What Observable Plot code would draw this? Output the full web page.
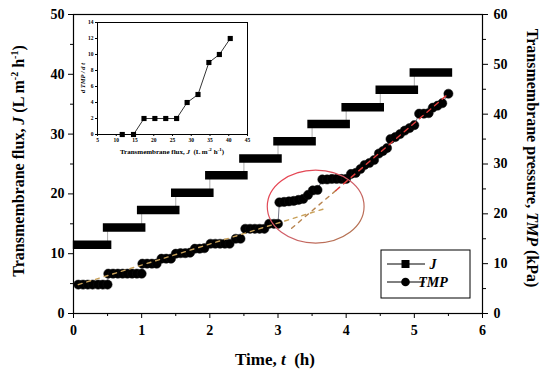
<!DOCTYPE html>
<html>
<head>
<meta charset="utf-8">
<script src="https://cdn.jsdelivr.net/npm/d3@7"></script>
<script src="https://cdn.jsdelivr.net/npm/@observablehq/plot@0.6"></script>
<style>
  html, body { margin: 0; padding: 0; background: white; }
  #wrap { position: relative; width: 550px; height: 377px; overflow: hidden; }
  #wrap svg { position: absolute; }
</style>
</head>
<body>
<div id="wrap"></div>
<script>
// ---------- data ----------
// Flux J (L m-2 h-1): step start time, end time (h), value
const jStart = [0.06, 0.5, 1.0, 1.5, 2.0, 2.5, 3.0, 3.5, 4.0, 4.5, 5.0];
const jEnd   = [0.5, 1.0, 1.5, 2.0, 2.5, 3.0, 3.5, 4.0, 4.5, 5.0, 5.5];
const jFlux  = [11.5, 14.4, 17.3, 20.2, 23.1, 25.9, 28.8, 31.7, 34.5, 37.4, 40.3];

// TMP (kPa) readings vs time (h)
const tmpTime = [
  0.07,0.14,0.21,0.28,0.36,0.43,0.50,
  0.51,0.58,0.65,0.72,0.79,0.86,0.93,1.00,
  1.01,1.08,1.15,1.22,1.29,1.36,1.43,
  1.50,1.57,1.64,1.71,1.78,1.85,1.92,
  2.01,2.08,2.15,2.22,2.29,2.38,2.45,
  2.52,2.59,2.66,2.73,2.80,2.87,2.94,3.00,
  3.02,3.09,3.16,3.23,3.30,3.37,3.44,3.51,3.58,
  3.65,3.72,3.79,3.86,3.93,4.00,
  4.07,4.14,4.21,4.27,4.34,4.41,4.48,4.54,4.60,4.65,4.72,4.79,4.86,4.93,5.00,
  5.07,5.14,5.21,5.27,5.34,5.41,5.50
];
const tmpValue = [
  5.8,5.8,5.8,5.8,5.8,5.8,5.8,
  8.0,8.0,8.0,8.0,8.0,8.0,8.0,8.0,
  10.0,10.0,10.0,10.0,11.0,11.0,11.0,
  12.0,12.1,12.1,12.2,13.0,13.0,13.1,
  14.0,14.0,14.0,14.0,14.0,15.0,15.0,
  17.0,17.0,17.0,17.0,17.0,18.0,18.0,18.0,
  22.3,22.4,22.5,22.6,22.8,23.0,23.8,24.7,24.8,
  26.9,26.9,27.0,27.0,27.0,27.0,
  28.0,28.2,29.0,29.8,30.2,30.8,32.1,32.6,33.2,35.0,35.4,36.0,36.7,37.2,37.8,
  40.1,40.1,40.2,41.3,41.7,42.2,44.1
];

// trend lines (time h, TMP kPa)
const trendLowT = [0.07, 3.7];
const trendLowV = [5.8, 21.1];
const trendHighT = [3.2, 3.85, 5.5];
const trendHighV = [17.1, 24.7, 44.1];

// inset: dTMP/dt vs flux
const insetFlux = [11.6, 14.6, 17.4, 20.3, 23.2, 26.1, 28.9, 31.8, 34.7, 37.5, 40.4];
const insetRate = [0, 0, 2, 2, 2, 2, 4, 5, 9, 10, 12];

// ticks
const xTicks = [0, 1, 2, 3, 4, 5, 6];
const xMinor = [0.5, 1.5, 2.5, 3.5, 4.5, 5.5];
const jTicks = [0, 10, 20, 30, 40, 50];
const jMinor = [5, 15, 25, 35, 45];
const tmpTicks = [0, 10, 20, 30, 40, 50, 60];
const tmpMinor = [5, 15, 25, 35, 45, 55];
const insetXTicks = [5, 10, 15, 20, 25, 30, 35, 40, 45];
const insetYTicks = [0, 2, 4, 6, 8, 10, 12, 14];

// ---------- build tables ----------
const K = 50 / 60; // TMP (kPa) -> J-axis units
const steps = jFlux.map((v, i) => ({start: jStart[i], end: jEnd[i], J: v}));
const jPath = steps.flatMap(s => [{t: s.start, J: s.J}, {t: s.end, J: s.J}]);
const tmp = tmpTime.map((t, i) => ({t, v: tmpValue[i]}));
const lowTrend = trendLowT.map((t, i) => ({t, v: trendLowV[i]}));
const highTrend = trendHighT.map((t, i) => ({t, v: trendHighV[i]}));
const highA = highTrend.slice(0, 2), highB = highTrend.slice(1);
const inset = insetFlux.map((f, i) => ({f, r: insetRate[i]}));

const FONT = "Liberation Serif, Times New Roman, serif";
const intFmt = d => String(Math.round(d));

const chart = Plot.plot({
  width: 550, height: 377,
  marginLeft: 73, marginRight: 68, marginTop: 14, marginBottom: 64,
  x: {domain: [0, 6]},
  y: {domain: [0, 50]},
  style: {fontFamily: FONT, fontWeight: "bold", fontSize: "14px", background: "white", color: "black"},
  marks: [
    Plot.axisX({ticks: xTicks, tickSize: 5, tickPadding: 7, fontSize: 14, tickFormat: intFmt, label: null}),
    Plot.axisX({ticks: xMinor, tickSize: 3, tickFormat: () => "", label: null}),
    Plot.axisY({anchor: "left", ticks: jTicks, tickSize: 5, tickPadding: 4, fontSize: 14, tickFormat: intFmt, label: null}),
    Plot.axisY({anchor: "left", ticks: jMinor, tickSize: 3, tickFormat: () => "", label: null}),
    Plot.axisY({anchor: "right", ticks: tmpTicks.map(v => v * K), tickSize: 5, tickPadding: 6, fontSize: 14,
      tickFormat: d => String(Math.round(d / K)), label: null}),
    Plot.axisY({anchor: "right", ticks: tmpMinor.map(v => v * K), tickSize: 3, tickFormat: () => "", label: null}),
    Plot.frame({stroke: "black", strokeWidth: 1.2}),
    // J
    Plot.line(jPath, {x: "t", y: "J", stroke: "#999", strokeWidth: 0.8}),
    Plot.ruleY(steps, {x1: "start", x2: "end", y: "J", stroke: "black", strokeWidth: 8.5, strokeLinecap: "square"}),
    // TMP
    Plot.line(tmp, {x: "t", y: d => d.v * K, stroke: "#778", strokeWidth: 1}),
    Plot.dot(tmp, {x: "t", y: d => d.v * K, r: 4.6, fill: "black", stroke: "#111", strokeWidth: 0.5}),
    // trend lines
    Plot.line(lowTrend, {x: "t", y: d => d.v * K, stroke: "#c9a15a", strokeWidth: 1.4, strokeDasharray: "4,5"}),
    Plot.line(highA, {x: "t", y: d => d.v * K, stroke: "#b8844f", strokeWidth: 1.4, strokeDasharray: "4,5"}),
    Plot.line(highB, {x: "t", y: d => d.v * K, stroke: "#e23b3b", strokeWidth: 1.4, strokeDasharray: "5,5"})
  ]
});

const svg = d3.select(chart);
const sx = chart.scale("x"), sy = chart.scale("y");

// ellipse annotation (data coordinates)
const ell = {t: 3.56, j: 17.8, dt: 0.71, dj: 6.1};
const defs = svg.append("defs");
const grad = defs.append("linearGradient").attr("id", "eg").attr("x1", "0").attr("y1", "0").attr("x2", "1").attr("y2", "1");
grad.append("stop").attr("offset", "0%").attr("stop-color", "#ee3b4a");
grad.append("stop").attr("offset", "55%").attr("stop-color", "#d0606a");
grad.append("stop").attr("offset", "100%").attr("stop-color", "#a87a48");
svg.append("ellipse")
  .attr("cx", sx.apply(ell.t)).attr("cy", sy.apply(ell.j))
  .attr("rx", sx.apply(ell.t + ell.dt) - sx.apply(ell.t))
  .attr("ry", sy.apply(ell.j) - sy.apply(ell.j + ell.dj))
  .attr("fill", "none").attr("stroke", "url(#eg)").attr("stroke-width", 1.2);

// axis titles
const ttl = (x, y, rot, size) => svg.append("text")
  .attr("transform", `translate(${x},${y}) rotate(${rot})`)
  .attr("text-anchor", "middle").attr("font-family", FONT).attr("font-weight", "bold")
  .attr("font-size", size).attr("fill", "black");

const lt = ttl(24, 161, -90, 16);
lt.append("tspan").text("Transmembrane flux, ");
lt.append("tspan").attr("font-style", "italic").text("J");
lt.append("tspan").text(" (L m");
lt.append("tspan").attr("dy", -6).attr("font-size", 10).text("-2");
lt.append("tspan").attr("dy", 6).text(" h");
lt.append("tspan").attr("dy", -6).attr("font-size", 10).text("-1");
lt.append("tspan").attr("dy", 6).text(")");

const rt = ttl(527, 158, 90, 16);
rt.append("tspan").text("Transmembrane pressure, ");
rt.append("tspan").attr("font-style", "italic").text("TMP");
rt.append("tspan").text(" (kPa)");

const xt = ttl(275, 365, 0, 17);
xt.append("tspan").text("Time, ");
xt.append("tspan").attr("font-style", "italic").text("t");
xt.append("tspan").attr("xml:space", "preserve").text("  (h)");

// legend
const lg = svg.append("g");
lg.append("rect").attr("x", 381).attr("y", 250).attr("width", 89).attr("height", 48)
  .attr("fill", "white").attr("stroke", "black").attr("stroke-width", 1);
[[264, "J", "square"], [282, "TMP", "circle"]].forEach(([y, lab, sym]) => {
  lg.append("line").attr("x1", 387).attr("x2", 425).attr("y1", y).attr("y2", y).attr("stroke", "black").attr("stroke-width", 1);
  if (sym === "square") lg.append("rect").attr("x", 401.5).attr("y", y - 4).attr("width", 8).attr("height", 8).attr("fill", "black");
  else lg.append("circle").attr("cx", 405.5).attr("cy", y).attr("r", 4.3).attr("fill", "black");
  lg.append("text").attr("x", 433).attr("y", y + 5).attr("font-family", FONT).attr("font-weight", "bold")
    .attr("font-style", "italic").attr("font-size", 14).attr("fill", "black").text(lab);
});

// ---------- inset ----------
const insetChart = Plot.plot({
  width: 195, height: 145,
  marginLeft: 37, marginTop: 8, marginRight: 8, marginBottom: 25,
  x: {domain: [5, 45]},
  y: {domain: [0, 14]},
  style: {fontFamily: FONT, fontWeight: "bold", fontSize: "5.5px", background: "white", color: "black"},
  marks: [
    Plot.axisX({ticks: insetXTicks, tickSize: 2, tickPadding: 2, fontSize: 5.5, tickFormat: intFmt, label: null}),
    Plot.axisY({ticks: insetYTicks, tickSize: 2, tickPadding: 2, fontSize: 5.5, tickFormat: intFmt, label: null}),
    Plot.frame({stroke: "black", strokeWidth: 1}),
    Plot.line(inset, {x: "f", y: "r", stroke: "black", strokeWidth: 0.8}),
    Plot.dot(inset, {x: "f", y: "r", symbol: "square", r: 2.9, fill: "black"})
  ]
});
const isvg = d3.select(insetChart);
const ixt = isvg.append("text").attr("x", 112).attr("y", 140).attr("text-anchor", "middle")
  .attr("font-family", FONT).attr("font-weight", "bold").attr("font-size", 7).attr("fill", "black");
ixt.append("tspan").text("Transmembrane flux, ");
ixt.append("tspan").attr("font-style", "italic").text("J");
ixt.append("tspan").attr("xml:space", "preserve").text("  (L m");
ixt.append("tspan").attr("dy", -3).attr("font-size", 5).text("-2");
ixt.append("tspan").attr("dy", 3).text(" h");
ixt.append("tspan").attr("dy", -3).attr("font-size", 5).text("-1");
ixt.append("tspan").attr("dy", 3).text(")");
const iyt = isvg.append("text").attr("transform", "translate(25,64) rotate(-90)").attr("text-anchor", "middle")
  .attr("font-family", FONT).attr("font-weight", "bold").attr("font-style", "italic").attr("font-size", 6.5).attr("fill", "black");
iyt.text("d TMP / d t");

const wrap = document.getElementById("wrap");
chart.style.left = "0px"; chart.style.top = "0px";
insetChart.style.left = "60px"; insetChart.style.top = "14px";
insetChart.style.background = "transparent";
wrap.appendChild(chart);
wrap.appendChild(insetChart);
</script>
</body>
</html>
